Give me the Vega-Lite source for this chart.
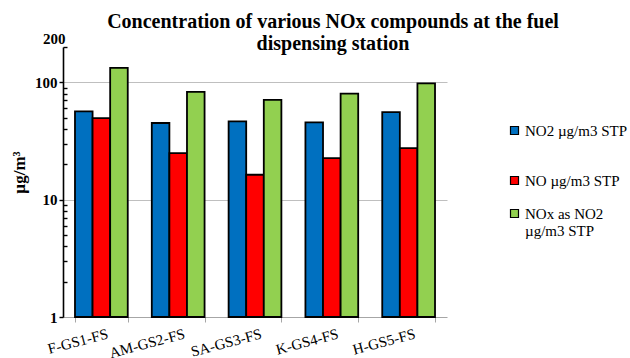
{
  "$schema": "https://vega.github.io/schema/vega-lite/v6.json",
  "width": 384,
  "height": 270,
  "autosize": "none",
  "padding": {"left": 63, "top": 47, "right": 183, "bottom": 41},
  "background": "white",
  "config": {
    "font": "Liberation Serif",
    "view": {"stroke": null}
  },
  "title": {
    "text": ["Concentration of various NOx compounds at the fuel", "dispensing station"],
    "fontSize": 20,
    "fontWeight": "bold",
    "font": "Liberation Serif",
    "color": "black",
    "lineHeight": 22,
    "anchor": "middle",
    "dx": 78,
    "dy": 27,
    "offset": 4
  },
  "data": {
    "values": [
      {"site": "F-GS1-FS", "series": "NO2 µg/m3 STP", "value": 56.5},
      {"site": "F-GS1-FS", "series": "NO µg/m3 STP", "value": 49.6},
      {"site": "F-GS1-FS", "series": "NOx as NO2 µg/m3  STP", "value": 133},
      {"site": "AM-GS2-FS", "series": "NO2 µg/m3 STP", "value": 45},
      {"site": "AM-GS2-FS", "series": "NO µg/m3 STP", "value": 24.9},
      {"site": "AM-GS2-FS", "series": "NOx as NO2 µg/m3  STP", "value": 82.8},
      {"site": "SA-GS3-FS", "series": "NO2 µg/m3 STP", "value": 46.4},
      {"site": "SA-GS3-FS", "series": "NO µg/m3 STP", "value": 16.3},
      {"site": "SA-GS3-FS", "series": "NOx as NO2 µg/m3  STP", "value": 71},
      {"site": "K-GS4-FS", "series": "NO2 µg/m3 STP", "value": 45.5},
      {"site": "K-GS4-FS", "series": "NO µg/m3 STP", "value": 22.6},
      {"site": "K-GS4-FS", "series": "NOx as NO2 µg/m3  STP", "value": 80},
      {"site": "H-GS5-FS", "series": "NO2 µg/m3 STP", "value": 55.8},
      {"site": "H-GS5-FS", "series": "NO µg/m3 STP", "value": 27.5},
      {"site": "H-GS5-FS", "series": "NOx as NO2 µg/m3  STP", "value": 98}
    ]
  },
  "mark": {"type": "bar", "stroke": "black", "strokeWidth": 1.8, "strokeOpacity": 1, "fillOpacity": 1},
  "encoding": {
    "x": {
      "field": "site",
      "type": "nominal",
      "sort": null,
      "scale": {"paddingInner": 0.313, "paddingOuter": 0.156},
      "axis": {
        "title": null,
        "labelAngle": -15,
        "labelAlign": "right",
        "labelBaseline": "top",
        "labelFontSize": 15,
        "labelColor": "black",
        "labelPadding": 4,
        "labelOffset": 4,
        "labelOverlap": false,
        "labelBound": false,
        "domainColor": "#a6a6a6",
        "domainWidth": 1.2,
        "tickColor": "#a6a6a6",
        "tickSize": 5,
        "tickBand": "extent",
        "grid": false
      }
    },
    "xOffset": {
      "field": "series",
      "type": "nominal",
      "sort": null,
      "scale": {"paddingInner": 0, "paddingOuter": 0}
    },
    "y": {
      "field": "value",
      "type": "quantitative",
      "scale": {"type": "log", "domain": [1, 200], "nice": false},
      "axis": {
        "title": "µg/m³",
        "titleFontSize": 17,
        "titleFontWeight": "bold",
        "titleColor": "black",
        "titleX": -35,
        "titleY": 125,
        "titleAnchor": null,
        "values": [1, 2, 3, 4, 5, 6, 7, 8, 9, 10, 20, 30, 40, 50, 60, 70, 80, 90, 100, 200],
        "labelExpr": "(datum.value == 1 || datum.value == 10 || datum.value == 100 || datum.value == 200) ? datum.label : ''",
        "labelFontSize": 15,
        "labelFontWeight": "bold",
        "labelColor": "black",
        "labelPadding": 2,
        "labelOffset": {"condition": {"test": "datum.value == 200", "value": -9}, "value": 0},
        "domainColor": "black",
        "domainWidth": 1.6,
        "tickColor": "black",
        "tickWidth": 1.4,
        "tickSize": {"condition": {"test": "datum.value == 1 || datum.value == 10 || datum.value == 100", "value": 4}, "value": -4},
        "grid": true,
        "gridColor": "#bfbfbf",
        "gridWidth": 1.2,
        "gridOpacity": {"condition": {"test": "datum.value == 10 || datum.value == 100", "value": 1}, "value": 0}
      }
    },
    "y2": {"datum": 1},
    "stroke": {"value": "black"},
    "strokeWidth": {"value": 1.8},
    "fill": {
      "field": "series",
      "type": "nominal",
      "sort": null,
      "scale": {
        "domain": ["NO2 µg/m3 STP", "NO µg/m3 STP", "NOx as NO2 µg/m3  STP"],
        "range": ["#0070C0", "#FF0000", "#92D050"]
      },
      "legend": {
        "title": null,
        "orient": "none",
        "legendX": 444,
        "legendY": 76,
        "symbolType": "square",
        "symbolSize": 64,
        "symbolStrokeColor": "black",
        "symbolStrokeWidth": 1.2,
        "labelFontSize": 15,
        "labelColor": "black",
        "labelLimit": 200,
        "labelOffset": 3,
        "rowPadding": 17,
        "labelExpr": "datum.label == 'NOx as NO2 µg/m3  STP' ? ['NOx as NO2', 'µg/m3  STP'] : datum.label == 'NO2 µg/m3 STP' ? ['NO2 µg/m3 STP', ' '] : datum.label"
      }
    }
  }
}
